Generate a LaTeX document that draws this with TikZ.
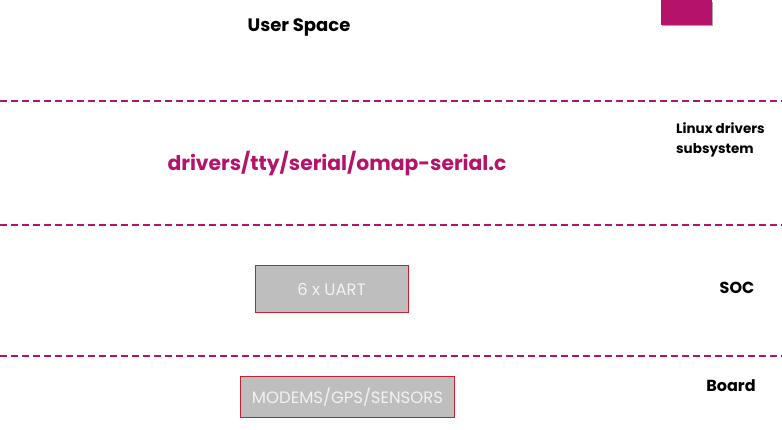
\documentclass[tikz,border=0pt]{standalone}
\usepackage{fontspec}
\setmainfont{Poppins}
\usetikzlibrary{positioning}
\definecolor{plum}{RGB}{181,19,107}
\definecolor{boxred}{RGB}{200,30,45}
\definecolor{boxgray}{RGB}{190,190,190}
\tikzset{
  layerline/.style={plum,line width=1.6pt,dash pattern=on 7pt off 4pt},
  layername/.style={font=\bfseries\fontsize{16}{20}\selectfont,align=left,inner sep=0pt},
  hwbox/.style={draw=boxred,line width=1pt,fill=boxgray,text=white!90!gray,
    font=\fontsize{16.5}{18}\selectfont,inner sep=0pt},
}
\begin{document}
\begin{tikzpicture}[x=1pt,y=-1pt]
\useasboundingbox (0,0) rectangle (782,429);
%Eckmarke oben rechts
\fill[black!35] (662,2) rectangle (713,26);
\fill[plum] (661,0) rectangle (712,24.5);
%Schichtgrenzen
\foreach \y in {101,225,356}{
\draw[layerline] (0,\y) -- (782,\y);
}
\node[layername,font=\bfseries\fontsize{18}{20}\selectfont] (user) at (299,27) {User Space};
\node[layername,anchor=west,font=\bfseries\fontsize{13.5}{20}\selectfont] (linux) at (676,140) {Linux drivers\\subsystem};
\node[font=\bfseries\fontsize{20.3}{22}\selectfont,text=plum,inner sep=0pt] (drv) at (337,164) {drivers/tty/serial/omap-serial.c};
\node[hwbox,minimum width=153pt,minimum height=47pt] (uart) at (331.5,289) {6 x UART};
\node[layername] (soc) at (737,288) {SOC};
\node[hwbox,minimum width=214pt,minimum height=41pt] (board) at (347.5,397) {MODEMS/GPS/SENSORS};
\node[layername] (brd) at (731,386) {Board};
\end{tikzpicture}
\end{document}
